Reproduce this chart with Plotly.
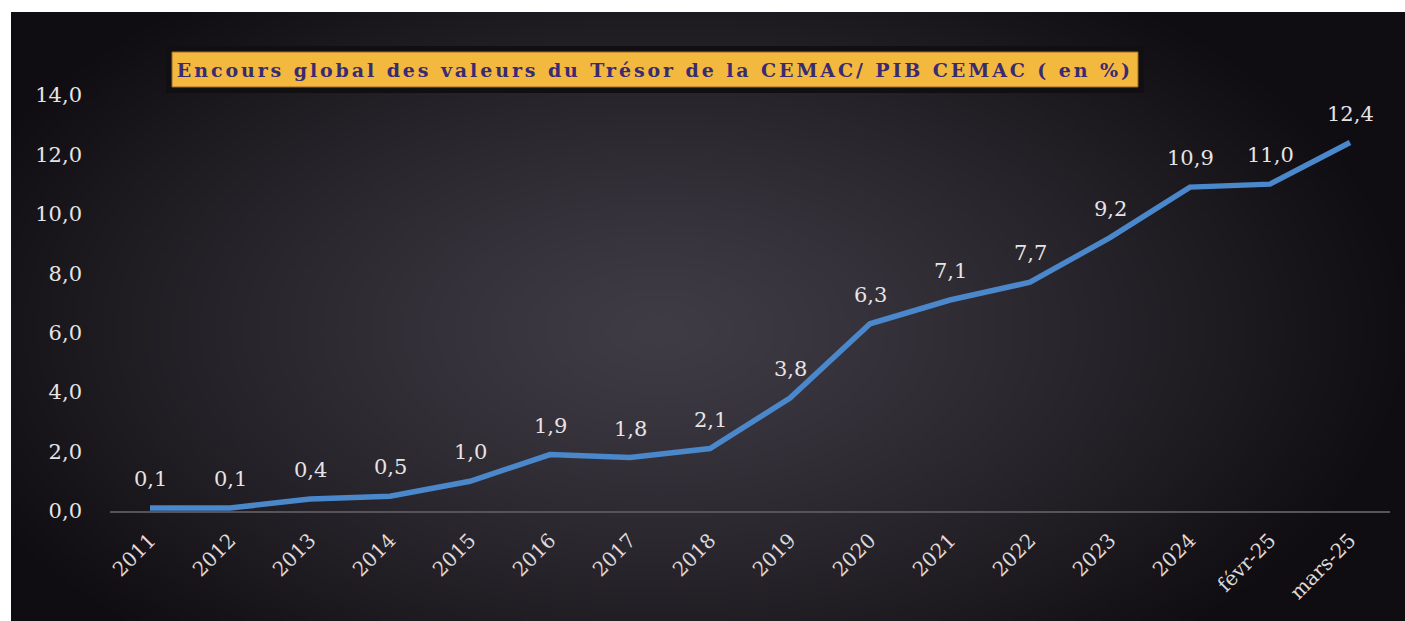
import base64, struct, zlib
import numpy as np
import plotly.graph_objects as go

categories = ["2011", "2012", "2013", "2014", "2015", "2016", "2017", "2018", "2019",
              "2020", "2021", "2022", "2023", "2024", "févr-25", "mars-25"]
values = [0.1, 0.1, 0.4, 0.5, 1.0, 1.9, 1.8, 2.1, 3.8, 6.3, 7.1, 7.7, 9.2, 10.9, 11.0, 12.4]
y_ticks = [0, 2, 4, 6, 8, 10, 12, 14]
y_tick_labels = ["0,0", "2,0", "4,0", "6,0", "8,0", "10,0", "12,0", "14,0"]
title_text = "Encours global des valeurs du Trésor de la CEMAC/ PIB CEMAC ( en %)"

W, H = 1405, 621
ML, MR, MT, MB = 110, 15, 95, 110
PW, PH = W - ML - MR, H - MT - MB


def px_x(x):
    return (x - ML) / PW


def px_y(y):
    return (H - MB - y) / PH


# background gradient image (styling only)
iw, ih = 350, 152
xs = np.linspace(11, W, iw)[None, :]
ys = np.linspace(12, H, ih)[:, None]
t = np.sqrt(((xs - 660) / 760) ** 2 + ((ys - 330) / 430) ** 2)
t = np.clip(t, 0, 1) ** 1.2
c_center = np.array([64, 60, 70], float)
c_edge = np.array([15, 13, 17], float)
img = (c_center[None, None, :] * (1 - t[..., None]) + c_edge[None, None, :] * t[..., None]).astype(np.uint8)


def to_png(arr):
    h, w, _ = arr.shape
    raw = b"".join(b"\x00" + arr[r].tobytes() for r in range(h))

    def chunk(tag, data):
        c = struct.pack(">I", len(data)) + tag + data
        return c + struct.pack(">I", zlib.crc32(tag + data) & 0xffffffff)

    return (b"\x89PNG\r\n\x1a\n" + chunk(b"IHDR", struct.pack(">IIBBBBB", w, h, 8, 2, 0, 0, 0))
            + chunk(b"IDAT", zlib.compress(raw, 9)) + chunk(b"IEND", b""))


img_uri = "data:image/png;base64," + base64.b64encode(to_png(img)).decode()

fig = go.Figure()
fig.add_trace(go.Scatter(
    x=categories, y=values, mode="lines",
    line=dict(color="#4a87cb", width=5.5),
    hoverinfo="skip", showlegend=False,
))

label_font = dict(family="DejaVu Serif", size=21, color="#e6e4e6")
for i, v in enumerate(values):
    fig.add_annotation(x=i, y=v, text=f"{v:.1f}".replace(".", ","), showarrow=False,
                       yanchor="bottom", yshift=15, font=label_font)

# title box
fig.add_shape(type="rect", xref="paper", yref="paper",
              x0=px_x(166), x1=px_x(1144), y0=px_y(93), y1=px_y(46),
              fillcolor="#120f12", line=dict(width=0), layer="above")
fig.add_shape(type="rect", xref="paper", yref="paper",
              x0=px_x(172), x1=px_x(1138), y0=px_y(87), y1=px_y(52),
              fillcolor="#f3b83e", line=dict(color="#9a6a28", width=1), layer="above")
fig.add_annotation(xref="paper", yref="paper", x=px_x(655), y=px_y(70),
                   text=f"<b>{title_text}</b>", showarrow=False,
                   xanchor="center", yanchor="middle",
                   font=dict(family="DejaVu Serif", size=19, color="#3a2a72"))

fig.update_layout(
    width=W, height=H,
    margin=dict(l=ML, r=MR, t=MT, b=MB),
    paper_bgcolor="white", plot_bgcolor="rgba(0,0,0,0)",
    images=[dict(source=img_uri, xref="paper", yref="paper",
                 x=px_x(11), y=px_y(12), sizex=(W - 11) / PW, sizey=(H - 12) / PH,
                 xanchor="left", yanchor="top", sizing="stretch", layer="below")],
    xaxis=dict(type="category", showgrid=False, zeroline=False,
               showline=True, linecolor="#57535a", linewidth=1.5,
               tickangle=-45, ticks="", ticklabelstandoff=8,
               tickfont=dict(family="DejaVu Serif", size=20, color="#dcdadc"),
               range=[-0.5, len(categories) - 0.5]),
    yaxis=dict(range=[0, 14], tickvals=y_ticks, ticktext=y_tick_labels,
               showgrid=False, zeroline=False, showline=False, ticks="",
               ticklabelstandoff=27,
               tickfont=dict(family="DejaVu Serif", size=21, color="#e6e4e6")),
)

post = """
function spaceTitle(){
  document.querySelectorAll('.annotation-text').forEach(function(el){
    if (el.textContent.indexOf('Encours') === 0) { el.style.letterSpacing = '2.9px'; }
  });
}
spaceTitle();
var gd = document.getElementsByClassName('plotly-graph-div')[0];
if (gd && gd.on) { gd.on('plotly_afterplot', spaceTitle); }
"""
fig.write_html("out.html", post_script=post)
